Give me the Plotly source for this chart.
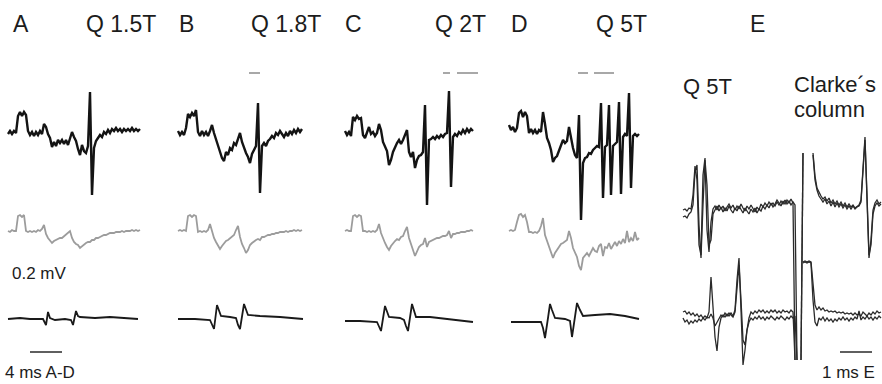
import numpy as np
import plotly.graph_objects as go

# ---------------- data (time in ms, voltage in microvolts) ----------------
DT_AD = 0.25      # sample interval, panels A-D (ms)
DT_E = 0.0625     # sample interval, panel E (ms)

PANEL_LETTERS = ["A", "B", "C", "D"]
PANEL_TITLES = ["Q 1.5T", "Q 1.8T", "Q 2T", "Q 5T"]

# black (upper) recordings
A_TOP = [-20, -5, -20, -5, -15, 70, 90, 70, 90, 75,
         -5, -25, -10, -30, -10, -25, -5, -20, 30, 15,
         -20, -40, -85, -60, -80, -50, -65, -50, -70, -50,
         -75, -40, -10, -35, -55, -95, -125, -75, -105, -115,
         -80, 190, -325, -90, -55, -40, -25, -35, -10, -20,
         0, -15, 5, -5, 10, -5, 5, -10, 5, -5,
         5, -5, 10, -5, 5, -5, 5]
B_TOP = [-5, -25, -10, -25, 10, 80, 65, 85, 70, 100,
         -10, -30, -5, -25, -10, -30, -5, 25, -15, -45,
         -70, -100, -140, -155, -110, -125, -90, -100, -65, -75,
         -40, -15, -60, -90, -115, -135, -165, -120, -100, -80,
         135, -315, -80, -65, -80, -55, -45, -30, -40, -15,
         -25, -5, -20, -35, -15, -30, -5, -20, 0, -15,
         5, -10, 5]
C_TOP = [-5, -25, -10, -30, 65, 50, 70, 55, 60, -25,
         -40, -15, 15, -20, -10, -30, -15, 30, 0, -60,
         -80, -105, -175, -150, -110, -85, -65, -50, -70, -50,
         -25, 0, -110, -135, -110, -190, -150, -130, -125, -110,
         125, -375, -50, -45, -35, -45, -30, -40, -25, -35,
         -20, -15, 195, -285, -35, -20, -30, -10, -20, 0,
         -15, 5, -10, 5, -5]
D_TOP = [25, 0, 15, -10, 10, 85, 95, 65, 90, 70,
         -15, 5, -15, 0, -20, 0, -10, 90, 30, -40,
         -65, -100, -160, -140, -130, -100, -80, -50, -65, -55,
         15, -40, -90, -125, -140, 75, -450, -165, -140, -135,
         -115, -120, -100, -90, -80, -85, 135, -340, -85, -75,
         125, -325, -80, -70, -60, 140, -320, -35, -20, -30,
         185, -290, -30, -20, -30, -20]

# grey (middle) recordings
A_GREY = [-5, -10, 0, -5, -5, 70, 75, 65, 75, -5,
          -10, -5, -10, -5, -10, 0, -5, 5, 25, -20,
          -40, -55, -65, -55, -50, -45, -40, -40, -30, -25,
          -15, -5, -40, -60, -70, -75, -90, -80, -70, -65,
          -60, -60, -50, -50, -40, -40, -35, -30, -25, -25,
          -20, -15, -15, -15, -10, -10, -10, -5, -10, -5,
          -5, -5, 0, -5, 0, -5, 0]
B_GREY = [-5, 0, -5, 0, -5, 70, 75, 65, 75, 70,
          -10, -5, -10, -5, -10, 0, 30, -10, -40, -60,
          -75, -95, -80, -65, -55, -50, -40, -35, -25, 0,
          20, -35, -70, -90, -115, -100, -75, -65, -55, -50,
          -45, -50, -35, -35, -30, -25, -25, -20, -20, -15,
          -15, -10, -10, -10, -5, -10, -5, -5, 0, -5,
          0, -5, 0]
C_GREY = [-5, 0, -5, -5, 70, 75, 65, 75, 70, -5,
          -5, -10, -5, -10, -5, -10, 0, 30, -15, -45,
          -65, -85, -100, -80, -65, -55, -45, -50, -35, -30,
          -5, 15, -40, -75, -100, -130, -105, -85, -75, -70,
          -40, -85, -60, -55, -50, -45, -40, -40, -35, -30,
          -30, -25, -5, -40, -20, -20, -15, -15, -10, -10,
          -10, -5, -5, 0, -5]
D_GREY = [-5, 0, -5, 0, 40, 75, 80, 65, 75, 40,
          -10, -10, -15, -10, -15, -5, 20, 60, -25, -55,
          -75, -105, -140, -115, -100, -85, -70, -65, -55, -50,
          -5, -40, -90, -110, -135, -180, -200, -140, -125, -115,
          -130, -110, -90, -105, -110, -80, -70, -130, -85, -90,
          -65, -95, -75, -60, -80, -55, -70, -45, -65, -5,
          -60, -40, -55, -10, -50, -40]

# lower (black) recordings: breakpoints (ms, microvolts)
A_BOT_T = [0, 1.5, 2.75, 4.375, 4.625, 4.75, 5.0, 5.25, 5.875, 7.125, 7.875, 8.125, 8.5, 8.75, 9.0, 10.875, 12.75, 14.625, 16.25]
A_BOT_V = [-5, 0, -5, -5, -25, -35, 30, 0, -10, -5, -10, -35, 35, 10, 5, 0, 5, 0, -5]
B_BOT_T = [0, 2.125, 4.0, 4.25, 4.5, 4.875, 5.125, 5.375, 6.5, 7.25, 7.5, 7.75, 8.25, 8.5, 8.75, 10.25, 12.75, 15.625]
B_BOT_V = [-5, -5, -10, -30, -55, 65, 40, 10, 5, 0, -35, -55, 70, 40, 15, 10, 5, -5]
C_BOT_T = [0, 1.875, 4.0, 4.25, 4.5, 5.0, 5.25, 5.5, 6.875, 7.375, 7.625, 7.875, 8.375, 8.625, 8.875, 10.625, 13.125, 16.0]
C_BOT_V = [-15, -15, -20, -45, -65, 60, 35, 5, 0, -10, -40, -65, 70, 40, 5, 5, -5, -20]
D_BOT_T = [0.25, 2.0, 4.0, 4.25, 4.5, 4.875, 5.125, 5.375, 5.75, 7.0, 7.625, 7.875, 8.25, 8.5, 8.875, 9.25, 10.75, 12.625, 14.5, 16.25]
D_BOT_V = [-20, -20, -20, -50, -100, 0, 70, 40, 0, -5, -15, -95, 15, 75, 40, 10, 15, 20, 10, -5]

# grey time-window bars above the traces (ms)
B_BARS = [[8.875, 10.25]]
C_BARS = [[12.25, 13.125], [14.0, 16.625]]
D_BARS = [[8.625, 9.875], [10.625, 13.125]]
BAR_LEVEL = 285

# panel E, two superimposed sweeps per recording (None = off scale / blanked)
N = None
E_UP_1 = [-15, -10, -20, -5, -10, 60, 205, 135, -190, -240,
          160, 245, -115, -225, -75, -10, 5, -15, 10, -10,
          5, -20, 0, 15, -5, 10, -15, 5, -10, 15,
          -5, -20, 5, -10, 10, -5, -25, 0, -15, 15,
          0, 20, 5, 25, 10, 20, 5, 25, 10, 30,
          15, 35, 15, 30, 10, 25, 10, -765, N, -765,
          270, N, N, N, N, 270, 155, 95, 70, 55,
          40, 50, 30, 45, 20, 35, 15, 30, 10, 25,
          5, 20, 0, 15, 0, 10, -5, 5, 10, 35,
          210, 350, 35, -255, -165, -15, 20, 35, 15, 25]
E_UP_2 = [-50, -45, -55, -35, -25, 10, 175, 210, -90, -255,
          10, 235, 110, -190, -165, -35, -15, 5, -20, 0,
          -25, -5, -20, 5, -15, -30, -5, -20, 5, -15,
          -30, -5, -20, -35, -10, -25, -5, -30, -10, -20,
          5, -10, 10, -5, 20, 0, 15, 35, 20, 5,
          30, 15, 35, 20, 40, 20, -765, N, N, -765,
          270, N, N, N, N, 260, 135, 85, 55, 40,
          25, 40, 15, 30, 5, 25, 0, 20, 0, 15,
          -5, 10, -10, 5, -10, 5, -10, 0, 5, 25,
          185, 335, 60, -240, -190, -35, 5, 20, 5, 15]
E_LO_1 = [15, 20, 5, 15, 0, 10, -5, 5, -10, 0,
          -15, -5, -15, 15, 190, 60, -110, -180, -60, -15,
          0, -10, 5, -5, 10, -5, 25, 175, 285, 25,
          -250, -175, -75, -15, 15, 5, 20, 10, 25, 15,
          25, 10, 20, 10, 25, 15, 25, 10, 20, 10,
          25, 15, 20, 10, 25, 15, -225, N, N, N,
          265, 270, 265, 270, 265, 150, 50, 25, 40, 25,
          35, 20, 25, 15, 20, 15, 20, 10, 15, 10,
          15, 5, 10, 5, 10, 0, 10, 0, 5, -5,
          15, 5, -5, 10, 0, 15, 5, 20, 10, 15]
E_LO_2 = [-15, -35, -25, -45, -30, -40, -25, -35, -20, -30,
          -15, -25, -10, -15, 5, -15, -55, -35, -15, 0,
          -10, 10, -5, 10, 0, -10, 15, 125, 250, 75,
          -125, -150, -75, -35, -15, -25, -10, -20, -5, -20,
          -10, -25, -10, -20, -5, -15, -25, -10, -20, -5,
          -15, -25, -10, -20, -5, -15, -5, -225, N, N,
          260, 265, 260, 265, 260, 75, -35, -55, -15, -25,
          -10, -30, -15, -30, -20, -35, -20, -30, -15, -25,
          -10, -25, -15, -30, -15, -25, -10, -20, 20, -25,
          -10, -20, -5, -20, -10, -25, -10, -20, -5, -15]

SCALE_AD_MS = 4
SCALE_E_MS = 1

# ---------------- layout geometry (pixels) ----------------
W, H = 882, 384
PX_PER_MS_AD = 8.0
PX_PER_MS_E = 32.0
UV_PER_PX = 5.0
PANEL_X0 = [8, 178, 345, 509]
E_X0 = 683
TOP_Y0, GREY_Y0, BOT_Y0 = 130, 230, 318
EUP_Y0, ELO_Y0 = 207, 315

TEXT = "#1c1c1c"
FONT = "Liberation Sans, Arial, Helvetica, sans-serif"


def xrange_for(x0, ppm):
    return [-x0 / ppm, (W - x0) / ppm]


def yrange_for(y0):
    return [(y0 - H) * UV_PER_PX, y0 * UV_PER_PX]


fig = go.Figure()

tops = [A_TOP, B_TOP, C_TOP, D_TOP]
greys = [A_GREY, B_GREY, C_GREY, D_GREY]
bots = [(A_BOT_T, A_BOT_V), (B_BOT_T, B_BOT_V), (C_BOT_T, C_BOT_V), (D_BOT_T, D_BOT_V)]
bars = [[], B_BARS, C_BARS, D_BARS]

for k in range(4):
    xa = "x" if k == 0 else f"x{k + 1}"
    t_top = np.arange(len(tops[k])) * DT_AD
    fig.add_trace(go.Scatter(x=t_top, y=tops[k], xaxis=xa, yaxis="y", mode="lines",
                             line=dict(color="#141414", width=2.4), hoverinfo="skip"))
    t_grey = np.arange(len(greys[k])) * DT_AD
    fig.add_trace(go.Scatter(x=t_grey, y=greys[k], xaxis=xa, yaxis="y2", mode="lines",
                             line=dict(color="#9c9c9c", width=1.8), hoverinfo="skip"))
    fig.add_trace(go.Scatter(x=bots[k][0], y=bots[k][1], xaxis=xa, yaxis="y3", mode="lines",
                             line=dict(color="#1a1a1a", width=1.8), hoverinfo="skip"))
    for b in bars[k]:
        fig.add_trace(go.Scatter(x=b, y=[BAR_LEVEL, BAR_LEVEL], xaxis=xa, yaxis="y", mode="lines",
                                 line=dict(color="#a8a8a8", width=2), hoverinfo="skip"))

t_e = np.arange(len(E_UP_1)) * DT_E
for arr, ya in [(E_UP_1, "y4"), (E_UP_2, "y4"), (E_LO_1, "y5"), (E_LO_2, "y5")]:
    fig.add_trace(go.Scatter(x=t_e, y=arr, xaxis="x5", yaxis=ya, mode="lines",
                             line=dict(color="#2a2a2a", width=1.3), hoverinfo="skip"))

# scale bars
fig.add_shape(type="line", xref="x", yref="paper", x0=2.75, x1=2.75 + SCALE_AD_MS,
              y0=1 - 352 / H, y1=1 - 352 / H, line=dict(color="#2a2a2a", width=1.5))
fig.add_shape(type="line", xref="x5", yref="paper", x0=(840 - E_X0) / PX_PER_MS_E,
              x1=(840 - E_X0) / PX_PER_MS_E + SCALE_E_MS,
              y0=1 - 352 / H, y1=1 - 352 / H, line=dict(color="#2a2a2a", width=1.5))

layout_axes = {}
for k in range(4):
    name = "xaxis" if k == 0 else f"xaxis{k + 1}"
    layout_axes[name] = dict(domain=[0, 1], range=xrange_for(PANEL_X0[k], PX_PER_MS_AD), visible=False)
layout_axes["xaxis5"] = dict(domain=[0, 1], range=xrange_for(E_X0, PX_PER_MS_E), visible=False)
for name, y0 in [("yaxis", TOP_Y0), ("yaxis2", GREY_Y0), ("yaxis3", BOT_Y0),
                 ("yaxis4", EUP_Y0), ("yaxis5", ELO_Y0)]:
    layout_axes[name] = dict(domain=[0, 1], range=yrange_for(y0), visible=False)


def ann(text, xp, yp, size, xanchor="center"):
    return dict(text=text, x=xp / W, y=1 - yp / H, xref="paper", yref="paper",
                xanchor=xanchor, yanchor="middle", showarrow=False,
                font=dict(family=FONT, size=size, color=TEXT))


annotations = []
letter_x = [21, 186, 353, 519]
title_x = [121, 286, 460, 621]
for k in range(4):
    annotations.append(ann(PANEL_LETTERS[k], letter_x[k], 24, 23))
    annotations.append(ann(PANEL_TITLES[k], title_x[k], 24, 23))
annotations.append(ann("E", 757, 24, 23))
annotations.append(ann("Q 5T", 707, 86, 22))
annotations.append(ann("Clarke´s", 792, 85, 22, "left"))
annotations.append(ann("column", 792, 109, 22, "left"))
annotations.append(ann("0.2 mV", 10, 273, 17, "left"))
annotations.append(ann("4 ms A-D", 3, 372, 17, "left"))
annotations.append(ann("1 ms E", 877, 372, 17, "right"))

fig.update_layout(width=W, height=H, margin=dict(l=0, r=0, t=0, b=0),
                  paper_bgcolor="white", plot_bgcolor="rgba(0,0,0,0)",
                  showlegend=False, annotations=annotations, **layout_axes)

fig.write_html("out.html", config={"displayModeBar": False, "staticPlot": True},
               post_script="document.body.style.margin='0';document.body.style.padding='0';")
